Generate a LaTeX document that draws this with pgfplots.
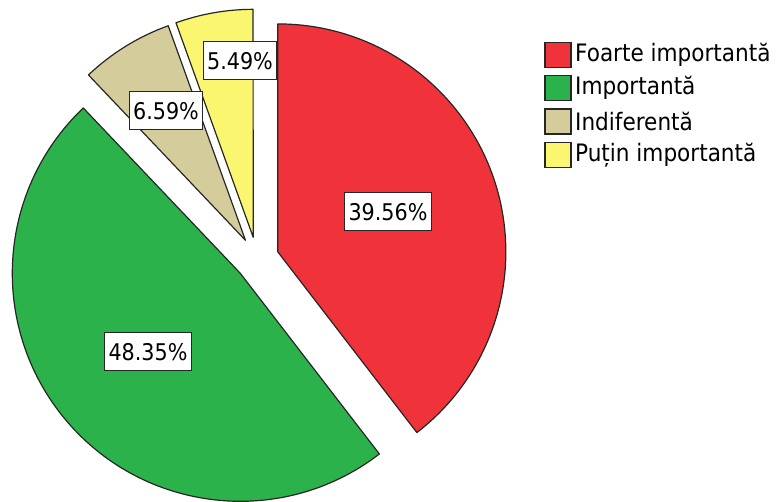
\documentclass[border=0pt]{standalone}
\usepackage{pgfplots}
\usepackage{pgfplotstable}
\pgfplotsset{compat=1.18}
\usepackage{fontspec}
\setmainfont{DejaVu Sans Condensed}

\definecolor{pieRed}{RGB}{240,50,58}
\definecolor{pieGreen}{RGB}{44,178,74}
\definecolor{pieBeige}{RGB}{212,205,155}
\definecolor{pieYellow}{RGB}{250,246,112}

% value, colour, label centre (pixels from top left)
\pgfplotstableread{
value col lx ly
39.56 pieRed 388 212
48.35 pieGreen 148 352
6.59 pieBeige 166 111
5.49 pieYellow 240 61
}\piedata

\begin{document}
\begin{tikzpicture}
\begin{axis}[
    name=pie,
    x=1pt, y=1pt,
    xmin=0, xmax=778, ymin=0, ymax=502,
    hide axis, clip=false,
    /pgf/number format/assume math mode=true,
]
\pgfplotsextra{
  % slices, clockwise from 12 o'clock, each pulled out a little
  \gdef\cum{0}
  \foreach \i in {0,...,3}{
    \pgfplotstablegetelem{\i}{value}\of\piedata \let\v\pgfplotsretval
    \pgfplotstablegetelem{\i}{col}\of\piedata \let\slicecol\pgfplotsretval
    \pgfmathsetmacro\aS{90-3.6*\cum}
    \pgfmathsetmacro\aE{\aS-3.6*\v}
    \pgfmathsetmacro\aM{(\aS+\aE)/2}
    \pgfmathsetmacro\px{257+22*cos(\aM)}
    \pgfmathsetmacro\py{243+22*sin(\aM)}
    \filldraw[fill=\slicecol, draw=black!85, line width=1.2pt, line join=round]
      (axis cs:\px,\py) -- ++(\aS:228pt) arc[start angle=\aS, end angle=\aE, radius=228pt] -- cycle;
    \pgfmathsetmacro\newcum{\cum+\v}
    \global\let\cum\newcum
  }
  % value labels
  \foreach \i in {0,...,3}{
    \pgfplotstablegetelem{\i}{value}\of\piedata \let\v\pgfplotsretval
    \pgfplotstablegetelem{\i}{lx}\of\piedata \let\lx\pgfplotsretval
    \pgfplotstablegetelem{\i}{ly}\of\piedata \let\ly\pgfplotsretval
    \pgfmathsetmacro\lyy{502-\ly}
    \node[draw=black!85, fill=white, line width=1pt, inner xsep=4pt, inner ysep=0pt,
          minimum height=38pt, font=\fontsize{23}{27}\selectfont]
      at (axis cs:\lx,\lyy) {\pgfmathprintnumber[fixed, precision=2, fixed zerofill, assume math mode=true]{\v}\%};
  }
  % legend
  \foreach \name [count=\k from 0] in {Foarte importantă, Importantă, Indiferentă, Puțin importantă}{
    \pgfplotstablegetelem{\k}{col}\of\piedata \let\slicecol\pgfplotsretval
    \pgfmathsetmacro\yc{502-(55+33.3*\k)}
    \filldraw[fill=\slicecol, draw=black!85, line width=1.2pt]
      (axis cs:545,\yc-12.5) rectangle (axis cs:571,\yc+12.5);
    \node[anchor=west, inner sep=0pt, font=\fontsize{24}{28}\selectfont]
      at (axis cs:575,\yc) {\name};
  }
}
\end{axis}
\pgfresetboundingbox
\path[use as bounding box] (pie.south west) rectangle (pie.north east);
\end{tikzpicture}
\end{document}
